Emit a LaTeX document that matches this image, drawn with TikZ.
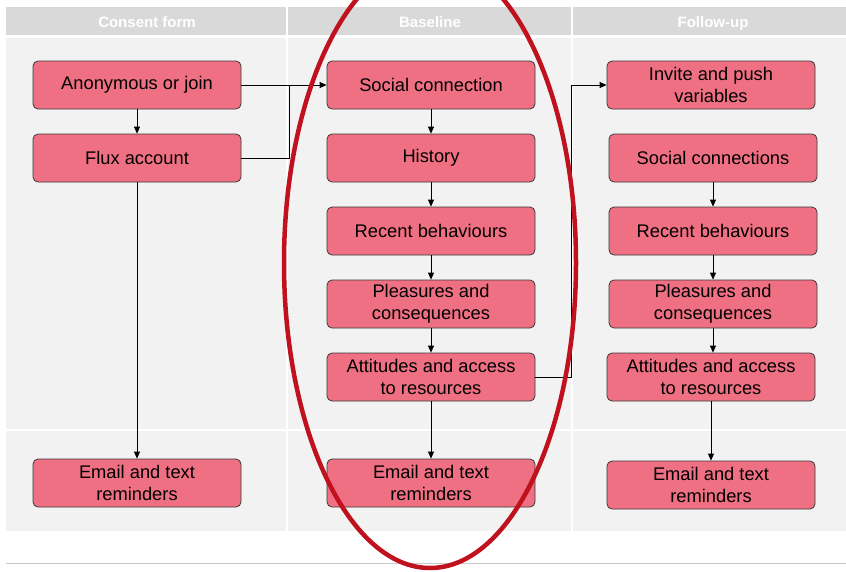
\documentclass[tikz,border=0pt]{standalone}
\usepackage{fontspec}
\setmainfont{Liberation Sans}
\usetikzlibrary{arrows.meta,shapes.geometric}
\definecolor{hdr}{HTML}{D9D9D9}
\definecolor{bodybg}{HTML}{F2F2F2}
\definecolor{boxfill}{HTML}{F07083}
\definecolor{boxline}{HTML}{3A3A3A}
\definecolor{ringred}{HTML}{C0111F}
\definecolor{rule}{HTML}{C8C8C8}
\tikzset{
  stepbox/.style={draw=boxline, fill=boxfill, rounded corners=5pt, line width=0.8pt,
    minimum width=208pt, minimum height=48pt, inner sep=2pt, align=center,
    font=\fontsize{18.3}{22}\selectfont},
  hdrtext/.style={text=white, anchor=base, font=\fontsize{15}{18}\selectfont\bfseries},
  conn/.style={draw=black, line width=0.8pt},
  arr/.style={conn, -{Triangle[length=7pt,width=6pt]}},
}
\begin{document}
\begin{tikzpicture}[x=1pt,y=-1pt]
\useasboundingbox (0,0) rectangle (846,571);
% backgrounds
\fill[hdr] (6,7) rectangle (846,35);
\fill[bodybg] (6,38) rectangle (846,531);
\draw[white, line width=2pt] (287,7) -- (287,531);
\draw[white, line width=2pt] (572,7) -- (572,531);
\draw[white, line width=2pt] (6,430) -- (846,430);
\draw[rule, line width=1pt] (6,563) -- (846,563);
\node[hdrtext] (h1) at (147,27) {Consent form};
\node[hdrtext] (h2) at (430,27) {Baseline};
\node[hdrtext] (h3) at (713,27) {Follow-up};
% column 1
\node[stepbox] (a1) at (137,85) {Anonymous or join};
\node[stepbox] (a2) at (137,158) {Flux account};
\node[stepbox] (a3) at (137,483) {Email and text\\reminders};
% column 2
\node[stepbox] (b1) at (431,85) {Social connection};
\node[stepbox] (b2) at (431,158) {History};
\node[stepbox] (b3) at (431,231) {Recent behaviours};
\node[stepbox] (b4) at (431,304) {Pleasures and\\consequences};
\node[stepbox] (b5) at (431,377) {Attitudes and access\\to resources};
\node[stepbox] (b6) at (431,483) {Email and text\\reminders};
% column 3
\node[stepbox] (c1) at (711,85) {Invite and push\\variables};
\node[stepbox] (c2) at (713,158) {Social connections};
\node[stepbox] (c3) at (713,231) {Recent behaviours};
\node[stepbox] (c4) at (713,304) {Pleasures and\\consequences};
\node[stepbox] (c5) at (711,377) {Attitudes and access\\to resources};
\node[stepbox] (c6) at (711,485) {Email and text\\reminders};
% connectors column 1
\draw[arr] (a1) -- (a2);
\draw[arr] (a2.south) -- (a3.north);
\draw[arr] (a1.east) -- (b1.west);
\coordinate (j1) at (289,85);
\draw[conn] (a2.east) -| (j1);
% column 2
\draw[arr] (b1) -- (b2);
\draw[arr] (b2) -- (b3);
\draw[arr] (b3) -- (b4);
\draw[arr] (b4) -- (b5);
\draw[arr] (b5) -- (b6);
\coordinate (j2) at (571,377);
\draw[arr] (b5.east) -- (j2) |- (c1.west);
% column 3
\draw[arr] (c2) -- (c3);
\draw[arr] (c3) -- (c4);
\draw[arr] (c4.south) -- (c4.south |- c5.north);
\draw[arr] (c5) -- (c6);
% red ring
\node[draw=ringred, line width=4.5pt, ellipse, minimum width=292pt, minimum height=610pt, inner sep=0pt] (ring) at (430,263) {};
\end{tikzpicture}
\end{document}
